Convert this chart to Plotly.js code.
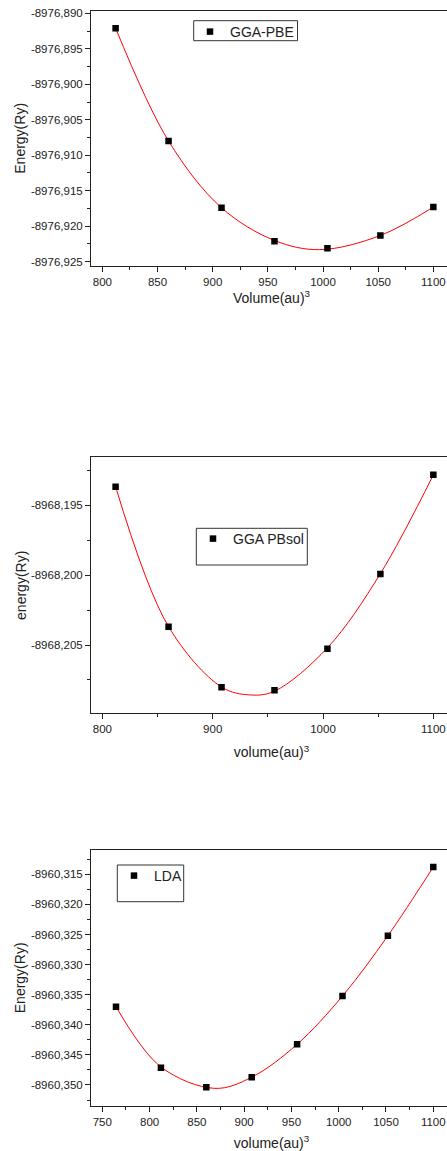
<!DOCTYPE html>
<html>
<head>
<meta charset="utf-8">
<script src="https://cdn.plot.ly/plotly-3.0.1.min.js"></script>
<style>
html, body { margin:0; padding:0; background:#fff; overflow:hidden; }
#wrap { width:447px; height:1151px; overflow:hidden; }
#chart { width:460px; height:1151px; }
</style>
</head>
<body>
<div id="wrap"><div id="chart"></div></div>
<script>
// ---------- data ----------
// GGA-PBE
var pbeVolume = [812, 860, 908, 956, 1004, 1052, 1100];
var pbeEnergy = [-8976.8921, -8976.9080, -8976.9174, -8976.9221, -8976.9231, -8976.9213, -8976.9173];
var pbeFitVolume = [812, 860, 908, 956, 997, 1052, 1100];
var pbeFitEnergy = [-8976.8921, -8976.9080, -8976.9174, -8976.9220, -8976.9233, -8976.9213, -8976.9173];
// GGA PBsol
var pbsolVolume = [812, 860, 908, 956, 1004, 1052, 1100];
var pbsolEnergy = [-8968.19369, -8968.20369, -8968.20802, -8968.20824, -8968.20526, -8968.19993, -8968.19284];
var pbsolFitVolume = [812, 860, 908, 934, 956, 1004, 1052, 1100];
var pbsolFitEnergy = [-8968.19369, -8968.20369, -8968.20800, -8968.20857, -8968.20830, -8968.20520, -8968.19990, -8968.19284];
// LDA
var ldaVolume = [764.5, 812, 860, 908, 956, 1004, 1052, 1100];
var ldaEnergy = [-8960.33699, -8960.34713, -8960.35038, -8960.34872, -8960.34324, -8960.33522, -8960.32520, -8960.31379];
var ldaFitVolume = [764.5, 812, 869, 908, 956, 1004, 1052, 1100];
var ldaFitEnergy = [-8960.33699, -8960.34700, -8960.35056, -8960.34870, -8960.34324, -8960.33522, -8960.32520, -8960.31379];

// tick values
var pbeXTicks = [800, 850, 900, 950, 1000, 1050, 1100];
var pbeYTicks = [-8976.890, -8976.895, -8976.900, -8976.905, -8976.910, -8976.915, -8976.920, -8976.925];
var pbsolXTicks = [800, 900, 1000, 1100];
var pbsolYTicks = [-8968.195, -8968.200, -8968.205];
var ldaXTicks = [750, 800, 850, 900, 950, 1000, 1050, 1100];
var ldaYTicks = [-8960.315, -8960.320, -8960.325, -8960.330, -8960.335, -8960.340, -8960.345, -8960.350];

var seriesNames = ['GGA-PBE', 'GGA PBsol', 'LDA'];
var xTitles = ['Volume(au)<sup>3</sup>', 'volume(au)<sup>3</sup>', 'volume(au)<sup>3</sup>'];
var yTitles = ['Energy(Ry)', 'energy(Ry)', 'Energy(Ry)'];

// ---------- helpers ----------
var W = 460, H = 1151;
function px(x) { return x / W; }
function py(y) { return 1 - y / H; }
function fmtY(v) { return v.toFixed(3).replace('.', ','); }
function fmtX(v) { return String(v); }
function mids(arr, lo, hi) {
  var s = arr.slice().sort(function(a,b){return a-b;});
  var step = s[1] - s[0];
  var out = [];
  for (var i = 0; i < s.length - 1; i++) out.push((s[i] + s[i+1]) / 2);
  out.push(s[0] - step/2); out.push(s[s.length-1] + step/2);
  return out.filter(function(v){ return v > lo && v < hi; });
}

var FONT = 'Liberation Sans, Arial, sans-serif';
var AXC = '#222';

function xAxis(domainPx, range, ticks, title, anchor, standoff) {
  return {
    domain: [px(domainPx[0]), px(domainPx[1])], anchor: anchor, range: range,
    showline: true, mirror: true, linecolor: AXC, linewidth: 1,
    ticks: 'outside', ticklen: 5, tickwidth: 1, tickcolor: AXC,
    tickmode: 'array', tickvals: ticks, ticktext: ticks.map(fmtX),
    minor: { tickmode: 'array', tickvals: mids(ticks, range[0], range[1]), ticks: 'outside', ticklen: 3, tickwidth: 1, tickcolor: AXC, showgrid: false },
    showgrid: false, zeroline: false,
    tickfont: { family: FONT, size: 11.5, color: AXC },
    title: { text: title, font: { family: FONT, size: 14, color: AXC }, standoff: standoff }
  };
}
function yAxis(topPx, botPx, range, ticks, title, anchor) {
  return {
    domain: [py(botPx), py(topPx)], anchor: anchor, range: range,
    showline: true, mirror: true, linecolor: AXC, linewidth: 1,
    ticks: 'outside', ticklen: 5, tickwidth: 1, tickcolor: AXC,
    tickmode: 'array', tickvals: ticks, ticktext: ticks.map(fmtY),
    minor: { tickmode: 'array', tickvals: mids(ticks, range[0], range[1]), ticks: 'outside', ticklen: 3, tickwidth: 1, tickcolor: AXC, showgrid: false },
    showgrid: false, zeroline: false,
    tickfont: { family: FONT, size: 11.5, color: AXC },
    title: { text: title, font: { family: FONT, size: 14, color: AXC }, standoff: 1 }
  };
}

var marker = { symbol: 'square', size: 6.5, color: '#000' };
var fitLine = { color: '#ff0000', width: 1, shape: 'spline', smoothing: 1 };

var data = [
  { x: pbeFitVolume, y: pbeFitEnergy, xaxis: 'x', yaxis: 'y', mode: 'lines', line: fitLine, showlegend: false, hoverinfo: 'skip' },
  { x: pbeVolume, y: pbeEnergy, xaxis: 'x', yaxis: 'y', mode: 'markers', marker: marker, name: seriesNames[0], legend: 'legend' },
  { x: pbsolFitVolume, y: pbsolFitEnergy, xaxis: 'x2', yaxis: 'y2', mode: 'lines', line: fitLine, showlegend: false, hoverinfo: 'skip' },
  { x: pbsolVolume, y: pbsolEnergy, xaxis: 'x2', yaxis: 'y2', mode: 'markers', marker: marker, name: seriesNames[1], legend: 'legend2' },
  { x: ldaFitVolume, y: ldaFitEnergy, xaxis: 'x3', yaxis: 'y3', mode: 'lines', line: fitLine, showlegend: false, hoverinfo: 'skip' },
  { x: ldaVolume, y: ldaEnergy, xaxis: 'x3', yaxis: 'y3', mode: 'markers', marker: marker, name: seriesNames[2], legend: 'legend3' }
];

function legendAt(leftPx, topPx) {
  return { x: px(leftPx), y: py(topPx), xanchor: 'left', yanchor: 'top', xref: 'paper', yref: 'paper',
           bgcolor: 'rgba(0,0,0,0)', borderwidth: 0, font: { family: FONT, size: 14, color: AXC } };
}
function boxShape(x0, y0, x1, y1) {
  return { type: 'rect', xref: 'paper', yref: 'paper', x0: px(x0), x1: px(x1), y0: py(y0), y1: py(y1),
           line: { color: '#333', width: 1 }, fillcolor: 'rgba(0,0,0,0)' };
}

var layout = {
  width: W, height: H,
  margin: { l: 0, r: 0, t: 0, b: 0, pad: 0 },
  paper_bgcolor: '#fff', plot_bgcolor: '#fff',
  font: { family: FONT, color: AXC },
  xaxis: xAxis([91, 452], [789.7, 1116.9], pbeXTicks, xTitles[0], 'y', 6),
  yaxis: yAxis(11, 265.7, [-8976.92556, -8976.88968], pbeYTicks, yTitles[0], 'x'),
  xaxis2: xAxis([91, 452], [789.7, 1116.9], pbsolXTicks, xTitles[1], 'y2', 13),
  yaxis2: yAxis(457.3, 713.3, [-8968.20988, -8968.19159], pbsolYTicks, yTitles[1], 'x2'),
  xaxis3: xAxis([91, 452], [738.05, 1119.8], ldaXTicks, xTitles[2], 'y3', 12),
  yaxis3: yAxis(850, 1105.7, [-8960.35344, -8960.31096], ldaYTicks, yTitles[2], 'x3'),
  legend: legendAt(190, 16),
  legend2: legendAt(193, 523),
  legend3: legendAt(114, 860),
  shapes: [
    boxShape(193.7, 20.7, 297.5, 40.7),
    boxShape(196.3, 528.3, 307.3, 565),
    boxShape(117.3, 865, 183.7, 901.7)
  ]
};

Plotly.newPlot('chart', data, layout, { displayModeBar: false, staticPlot: true });
</script>
</body>
</html>
